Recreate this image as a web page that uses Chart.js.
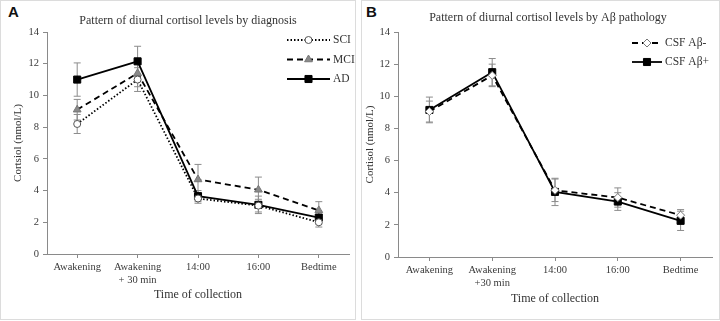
<!DOCTYPE html>
<html>
<head>
<meta charset="utf-8">
<script src="https://cdn.jsdelivr.net/npm/chart.js@4"></script>
<style>
  html, body { margin: 0; padding: 0; background: #fff; }
  body { width: 720px; height: 321px; position: relative; overflow: hidden; }
  .panel { position: absolute; top: 0; height: 320px; border: 1px solid #dcdcdc; box-sizing: border-box; }
  #panelA { left: 0; width: 356px; }
  #panelB { left: 361px; width: 359px; }
  .panel canvas { position: absolute; left: 0; top: 0; }
  .letter { position: absolute; top: 2px; font: bold 15px "Liberation Sans", Arial, sans-serif; color: #111; }
</style>
</head>
<body>
<div class="panel" id="panelA">
  <div class="letter" style="left:7px">A</div>
  <canvas id="chartA" width="354" height="318"></canvas>
</div>
<div class="panel" id="panelB">
  <div class="letter" style="left:4px">B</div>
  <canvas id="chartB" width="357" height="318"></canvas>
</div>
<script>
// Panel A - by diagnosis
const labelsA = [["Awakening"], ["Awakening", "+ 30 min"], ["14:00"], ["16:00"], ["Bedtime"]];
const sci = [8.2, 11.0, 3.5, 3.05, 2.0];
const sciErr = [0.6, 0.75, 0.3, 0.4, 0.3];
const mci = [9.1, 11.4, 4.7, 4.05, 2.75];
const mciErr = [0.65, 0.85, 0.95, 0.8, 0.55];
const ad = [11.0, 12.15, 3.65, 3.1, 2.3];
const adErr = [1.05, 0.95, 0.35, 0.55, 0.4];

// Panel B - by CSF amyloid
const labelsB = [["Awakening"], ["Awakening", "+30 min"], ["14:00"], ["16:00"], ["Bedtime"]];
const abNeg = [9.05, 11.3, 4.15, 3.7, 2.6];
const abNegErr = [0.65, 0.7, 0.7, 0.6, 0.35];
const abPos = [9.15, 11.5, 4.05, 3.45, 2.25];
const abPosErr = [0.8, 0.85, 0.85, 0.55, 0.6];

const yMin = 0, yMax = 14, yStep = 2;

const SERIF = '"Liberation Serif", "Times New Roman", serif';
const AXIS = '#8a8a8a';

// draws the +/- error bars behind the markers
const errorBars = {
  id: 'errorBars',
  beforeDatasetsDraw(chart) {
    const ctx = chart.ctx;
    const y = chart.scales.y;
    ctx.save();
    ctx.strokeStyle = '#8c8c8c';
    ctx.lineWidth = 1;
    chart.data.datasets.forEach((ds, i) => {
      chart.getDatasetMeta(i).data.forEach((pt, j) => {
        const v = ds.data[j], e = ds.errors[j];
        const top = y.getPixelForValue(v + e);
        const bot = y.getPixelForValue(v - e);
        ctx.beginPath();
        ctx.moveTo(pt.x, top); ctx.lineTo(pt.x, bot);
        ctx.moveTo(pt.x - 3.5, top); ctx.lineTo(pt.x + 3.5, top);
        ctx.moveTo(pt.x - 3.5, bot); ctx.lineTo(pt.x + 3.5, bot);
        ctx.stroke();
      });
    });
    ctx.restore();
  }
};

const panelTitle = {
  id: 'panelTitle',
  afterDraw(chart, args, opts) {
    const ctx = chart.ctx;
    ctx.save();
    ctx.font = opts.font;
    ctx.fillStyle = '#333';
    ctx.textAlign = 'center';
    ctx.textBaseline = 'middle';
    ctx.fillText(opts.text, opts.x, opts.y);
    ctx.restore();
  }
};

// legend inside the plot, top right
const innerLegend = {
  id: 'innerLegend',
  afterDraw(chart, args, opts) {
    const ctx = chart.ctx;
    chart.data.datasets.forEach((ds, i) => {
      const y = opts.y + i * opts.rowGap;
      ctx.save();
      ctx.strokeStyle = ds.borderColor;
      ctx.lineWidth = ds.borderWidth;
      ctx.setLineDash(ds.borderDash || []);
      ctx.beginPath();
      ctx.moveTo(opts.x, y);
      ctx.lineTo(opts.x + opts.lineLen, y);
      ctx.stroke();
      ctx.setLineDash([]);
      ctx.fillStyle = ds.pointBackgroundColor;
      ctx.strokeStyle = ds.pointBorderColor;
      ctx.lineWidth = 1;
      Chart.helpers.drawPoint(ctx, { pointStyle: ds.pointStyle, radius: ds.pointRadius, rotation: 0, borderWidth: 1 },
        opts.x + opts.lineLen / 2, y);
      ctx.fillStyle = '#333';
      ctx.font = '11.5px ' + SERIF;
      ctx.textBaseline = 'middle';
      ctx.fillText(ds.label, opts.x + opts.lineLen + 3, y);
      ctx.restore();
    });
  }
};

function series(label, data, errors, dash, style, fill, border, radius) {
  return {
    label, data, errors,
    borderColor: '#000', borderWidth: 1.8, borderDash: dash,
    pointStyle: style, pointRadius: radius,
    pointBackgroundColor: fill, pointBorderColor: border, pointBorderWidth: 1,
    tension: 0, fill: false
  };
}

function makeChart(id, labels, datasets, p) {
  return new Chart(document.getElementById(id), {
    type: 'line',
    data: { labels, datasets },
    plugins: [errorBars, panelTitle, innerLegend],
    options: {
      responsive: false,
      animation: false,
      devicePixelRatio: 1,
      layout: { padding: { top: 31, right: p.padRight, bottom: 0, left: 0 } },
      plugins: {
        legend: { display: false },
        tooltip: { enabled: false },
        panelTitle: { text: p.title, x: p.titleX, y: p.titleY, font: '12px ' + SERIF },
        innerLegend: p.legend
      },
      scales: {
        x: {
          offset: true,
          grid: { display: true, drawOnChartArea: false, drawTicks: true, tickLength: 4, color: AXIS, offset: false },
          border: { display: true, color: AXIS, width: 1 },
          ticks: { font: { family: SERIF, size: 10.5 }, color: '#3a3a3a', padding: 3, maxRotation: 0, autoSkip: false },
          title: { display: true, text: 'Time of collection', color: '#333',
                   font: { family: SERIF, size: 12 }, padding: { top: 0, bottom: p.xTitlePad } },
          afterFit(s) { s.height = p.xHeight; }
        },
        y: {
          min: yMin, max: yMax,
          grid: { display: true, drawOnChartArea: false, drawTicks: true, tickLength: 4, color: AXIS },
          border: { display: true, color: AXIS, width: 1 },
          ticks: { stepSize: yStep, font: { family: SERIF, size: 10.5 }, color: '#3a3a3a', padding: 4 },
          title: { display: true, text: p.yTitle, color: '#333',
                   font: { family: SERIF, size: 11 }, padding: { top: p.yTitlePad, bottom: 0 } },
          afterFit(s) { s.width = p.yWidth; }
        }
      }
    }
  });
}

makeChart('chartA', labelsA, [
  series('SCI', sci, sciErr, [1.5, 2], 'circle', '#fff', '#555', 3.5),
  series('MCI', mci, mciErr, [6, 4], 'triangle', '#8a8a8a', '#777', 4.5),
  series('AD', ad, adErr, [], 'rect', '#000', '#000', 5)
], {
  title: 'Pattern of diurnal cortisol levels by diagnosis', titleX: 187, titleY: 20,
  yTitle: 'Cortsiol (nmol/L)', yTitlePad: 11, yWidth: 46, padRight: 4,
  xHeight: 65, xTitlePad: 17,
  legend: { x: 286, y: 39, rowGap: 19.5, lineLen: 43 }
});

makeChart('chartB', labelsB, [
  series('CSF A\u03b2-', abNeg, abNegErr, [6, 4], 'rectRot', '#fff', '#777', 4),
  series('CSF A\u03b2+', abPos, abPosErr, [], 'rect', '#000', '#000', 5)
], {
  title: 'Pattern of diurnal cortisol levels by A\u03b2 pathology', titleX: 186, titleY: 17,
  yTitle: 'Cortisol (nmol/L)', yTitlePad: 2, yWidth: 36, padRight: 7,
  xHeight: 62, xTitlePad: 13,
  legend: { x: 270, y: 42, rowGap: 19, lineLen: 30 }
});
</script>
</body>
</html>
